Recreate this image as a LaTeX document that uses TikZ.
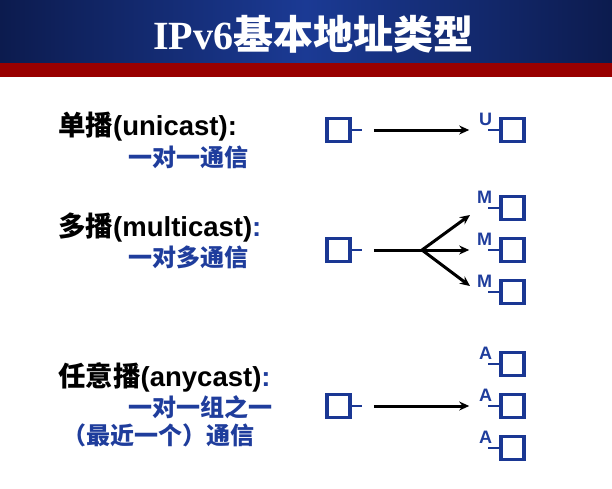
\documentclass[tikz,border=0pt]{standalone}
\usepackage{fontspec}
\setmainfont{Liberation Sans}
\newfontfamily\cjk{Noto Sans CJK SC}
\newfontfamily\titulofont{Liberation Serif}
\usetikzlibrary{arrows.meta,positioning,calc}
\definecolor{marino}{HTML}{0C1B4E}
\definecolor{marinoClaro}{HTML}{1B3A94}
\definecolor{granate}{HTML}{990000}
\definecolor{azulHost}{HTML}{1A3793}
\definecolor{azulTexto}{HTML}{1F3D9C}

\begin{document}
\begin{tikzpicture}[x=1pt,y=-1pt,
    host/.style={draw=azulHost,line width=3.6pt,minimum size=23pt,inner sep=0pt},
    patita/.style={azulHost,line width=2.8pt},
    flecha/.style={-{Stealth[length=10pt,width=9pt]},line width=3pt},
    rotulo/.style={anchor=base west,inner sep=0pt,
                   font=\fontsize{27.5}{30}\selectfont\bfseries},
    nota/.style={anchor=base west,inner sep=0pt,text=azulTexto,
                 font=\fontsize{24}{28}\selectfont\cjk\bfseries},
    marca/.style={anchor=south east,inner sep=0pt,text=azulTexto,
                  font=\fontsize{18}{18}\selectfont\bfseries}]
  \useasboundingbox (0,0) rectangle (612,488);
  % cabecera
  \shade[left color=marino,right color=marino,middle color=marinoClaro] (0,0) rectangle (612,63);
  \fill[granate] (0,63) rectangle (612,77);
  \node[text=white,inner sep=0pt,font=\fontsize{40}{42}\selectfont\bfseries] (titulo) at (313,34)
    {{\titulofont IPv6}{\cjk 基本地址类型}};

  % unicast
  \node[rotulo] (uni) at (58,135) {{\cjk 单播}(unicast):};
  \node[nota] (uniNota) at (128,166) {一对一通信};
  \node[host] (uOrig) at (338.5,130) {};
  \draw[patita] (uOrig.east) -- ++(10,0) coordinate (uOrigP);
  \node[host] (uDest) at (512.5,130) {};
  \draw[patita] (uDest.west) -- ++(-11,0) coordinate (uDestP);
  \node[marca] (uMarca) at ($(uDestP)+(4,-4)$) {U};
  \coordinate (uIni) at ($(uOrigP)+(12,0)$);
  \coordinate (uFin) at ($(uDestP)+(-19,0)$);
  \draw[flecha] (uIni) -- (uFin);

  % multicast
  \node[rotulo] (multi) at (58,236) {{\cjk 多播}(multicast){\color{azulTexto}:}};
  \node[nota] (multiNota) at (128,266) {一对多通信};
  \node[host] (mOrig) at (338.5,250) {};
  \draw[patita] (mOrig.east) -- ++(10,0) coordinate (mOrigP);
  \node[host] (mDest1) at (512.5,208) {};
  \node[host] (mDest2) at (512.5,250) {};
  \node[host] (mDest3) at (512.5,292) {};
  \draw[patita] (mDest1.west) -- ++(-11,0) coordinate (mDestP1);
  \draw[patita] (mDest2.west) -- ++(-11,0) coordinate (mDestP2);
  \draw[patita] (mDest3.west) -- ++(-11,0) coordinate (mDestP3);
  \node[marca] (mMarca1) at ($(mDestP1)+(4,-4)$) {M};
  \node[marca] (mMarca2) at ($(mDestP2)+(4,-4)$) {M};
  \node[marca] (mMarca3) at ($(mDestP3)+(4,-4)$) {M};
  \coordinate (mIni) at ($(mOrigP)+(12,0)$);
  \coordinate (mCruce) at (422,250);
  \coordinate (mFin1) at (470,215);
  \coordinate (mFin2) at ($(mDestP2)+(-19,0)$);
  \coordinate (mFin3) at (470,286);
  \draw[line width=3pt] (mIni) -- (mCruce);
  \draw[flecha] (mCruce) -- (mFin1);
  \draw[flecha] (mCruce) -- (mFin2);
  \draw[flecha] (mCruce) -- (mFin3);

  % anycast
  \node[rotulo] (any) at (58,386) {{\cjk 任意播}(anycast){\color{azulTexto}:}};
  \node[nota] (anyNota) at (128,416) {一对一组之一};
  \node[nota] (anyNota2) at (62,444) {（最近一个）通信};
  \node[host] (aOrig) at (338.5,406) {};
  \draw[patita] (aOrig.east) -- ++(10,0) coordinate (aOrigP);
  \node[host] (aDest1) at (512.5,364) {};
  \node[host] (aDest2) at (512.5,406) {};
  \node[host] (aDest3) at (512.5,448) {};
  \draw[patita] (aDest1.west) -- ++(-11,0) coordinate (aDestP1);
  \draw[patita] (aDest2.west) -- ++(-11,0) coordinate (aDestP2);
  \draw[patita] (aDest3.west) -- ++(-11,0) coordinate (aDestP3);
  \node[marca] (aMarca1) at ($(aDestP1)+(4,-4)$) {A};
  \node[marca] (aMarca2) at ($(aDestP2)+(4,-4)$) {A};
  \node[marca] (aMarca3) at ($(aDestP3)+(4,-4)$) {A};
  \coordinate (aIni) at ($(aOrigP)+(12,0)$);
  \coordinate (aFin) at ($(aDestP2)+(-19,0)$);
  \draw[flecha] (aIni) -- (aFin);
\end{tikzpicture}
\end{document}
